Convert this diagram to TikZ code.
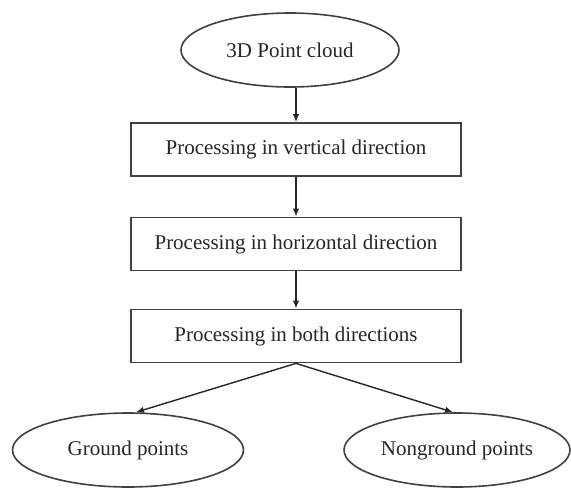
\documentclass[tikz,border=0pt]{standalone}
\usepackage{fontspec}
\setmainfont{Liberation Serif}
\usetikzlibrary{shapes.geometric,arrows.meta}
\begin{document}
\begin{tikzpicture}[x=1pt,y=-1pt,
	blob/.style={ellipse, draw=black!75, line width=1.6pt, inner sep=0pt, minimum height=74pt, text=black!85, font=\fontsize{21}{24}\selectfont},
	stepbox/.style={rectangle, draw=black!75, line width=1.8pt, minimum width=330pt, minimum height=53pt, text=black!85, font=\fontsize{21}{24}\selectfont},
	flow/.style={draw=black!85, line width=1.4pt, -{Latex[length=8pt,width=6.5pt]}}]
	\useasboundingbox (0,0) rectangle (571,488);
	\node[blob, minimum width=218pt] (cloud) at (290,50) {3D Point cloud};
	\node[stepbox] (vert) at (296,149.5) {Processing in vertical direction};
	\node[stepbox] (horiz) at (296,244) {Processing in horizontal direction};
	\node[stepbox] (both) at (296,336) {Processing in both directions};
	\node[blob, minimum width=231pt] (ground) at (128,450) {Ground points};
	\node[blob, minimum width=226pt] (nonground) at (457,450) {Nonground points};
	\draw[flow] (vert.north |- cloud.south) -- (vert.north);
	\draw[flow] (vert) -- (horiz);
	\draw[flow] (horiz) -- (both);
	\draw[flow] (both.south) -- ([xshift=8pt]ground.north);
	\draw[flow] (both.south) -- ([xshift=-4pt]nonground.north);
\end{tikzpicture}
\end{document}
